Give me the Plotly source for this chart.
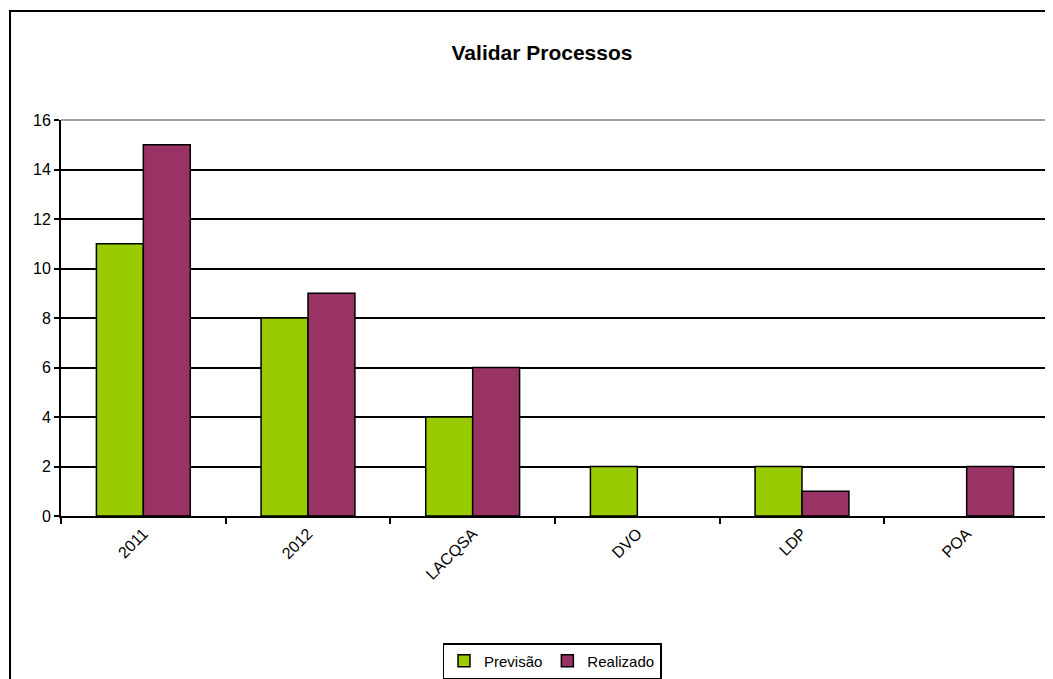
import plotly.graph_objects as go

categorias = ['2011', '2012', 'LACQSA', 'DVO', 'LDP', 'POA']
previsao = [11, 8, 4, 2, 2, None]
realizado = [15, 9, 6, None, 1, 2]

fonte = 'Liberation Sans, Arial, sans-serif'

trace1 = go.Bar(x=categorias, y=previsao, name='Previsão',
                marker=dict(color='#99CC00', line=dict(color='black', width=1.5)))
trace2 = go.Bar(x=categorias, y=realizado, name='Realizado',
                marker=dict(color='#993366', line=dict(color='black', width=1.5)))

fig = go.Figure(data=[trace1, trace2])

# a pagina tem margem de 8px no body, por isso a figura e um pouco menor
fig.update_layout(
    width=1045, height=671,
    paper_bgcolor='white', plot_bgcolor='white',
    font=dict(family=fonte, size=16, color='black'),
    margin=dict(l=53, r=4, t=112, b=163),
    barmode='group', bargap=0.43, bargroupgap=0,
    title=dict(text='<b>Validar Processos</b>', x=534 / 1045, xref='container', xanchor='center',
               y=1 - 45 / 671, yref='container', yanchor='middle',
               font=dict(family=fonte, size=21, color='black')),
    legend=dict(orientation='h', x=544 / 1045, xref='container', xanchor='center',
                y=1 - 635 / 671, yref='container', yanchor='top',
                bordercolor='black', borderwidth=1.5, font=dict(family=fonte, size=15),
                itemwidth=30, tracegroupgap=0),
    showlegend=True,
)

fig.update_xaxes(tickangle=-45, tickson='boundaries', ticks='outside', ticklen=6,
                 tickcolor='black', tickwidth=1.5, showline=True, linecolor='black',
                 linewidth=2, showgrid=False, tickfont=dict(family=fonte, size=16),
                 automargin=False)
fig.update_yaxes(range=[0, 16], dtick=2, ticks='outside', ticklen=5, tickcolor='black',
                 tickwidth=1.5, showline=True, linecolor='black', linewidth=2,
                 showgrid=True, gridcolor='black', gridwidth=1.5, zeroline=False,
                 tickfont=dict(family=fonte, size=16), automargin=False)

# moldura do grafico e da area de plotagem
fig.add_shape(type='rect', xref='paper', yref='paper', x0=-0.0516, x1=1.02, y0=-0.45, y1=1.275,
              line=dict(color='black', width=2), layer='below')
fig.add_shape(type='line', xref='paper', yref='paper', x0=0, x1=1, y0=1, y1=1,
              line=dict(color='#808080', width=1.5))
fig.add_shape(type='line', xref='paper', yref='paper', x0=1, x1=1, y0=0, y1=1,
              line=dict(color='#808080', width=1.5))

fig.write_html('out.html')
